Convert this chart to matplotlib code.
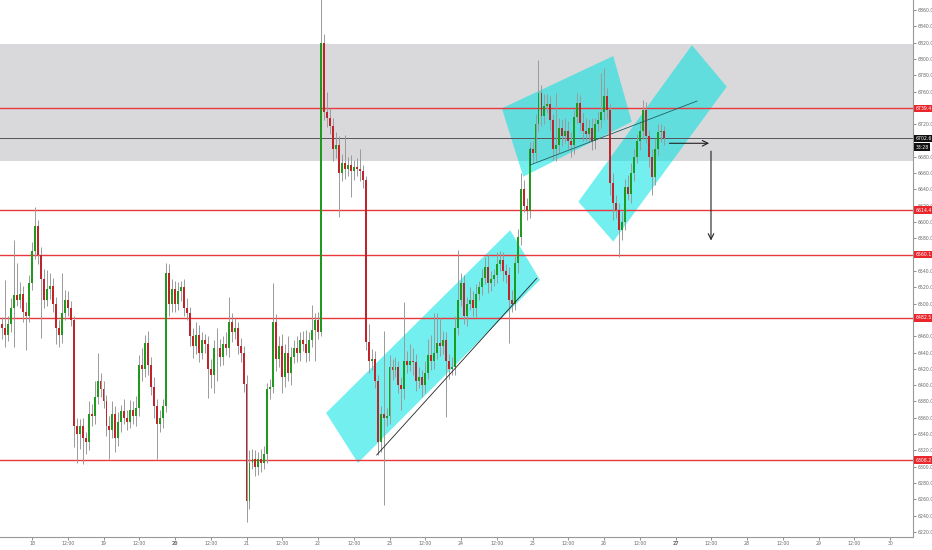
import numpy as np
import matplotlib
matplotlib.use("Agg")
import matplotlib.pyplot as plt
from matplotlib.patches import Polygon
from matplotlib.transforms import blended_transform_factory

# hourly candles, x = hours since the 18th 00:00
hours = np.arange(-10, 213)
first_open = 6475

closes = [
    6470, 6462, 6475, 6495, 6510, 6505, 6512, 6490, 6485, 6525,
    # 18
    6565, 6595, 6560, 6530, 6505, 6518, 6522, 6500, 6470, 6462, 6488, 6505,
    6495, 6480, 6350, 6340, 6350, 6335, 6330, 6365, 6362, 6385, 6405, 6395,
    # 19
    6380, 6350, 6345, 6365, 6335, 6355, 6368, 6360, 6355, 6370, 6362, 6372,
    6425, 6420, 6452, 6425, 6398, 6375, 6352, 6360, 6375, 6538, 6500, 6518,
    # 20
    6500, 6515, 6520, 6495, 6488, 6460, 6448, 6462, 6440, 6455, 6450, 6420,
    6412, 6445, 6445, 6435, 6450, 6445, 6478, 6465, 6470, 6448, 6440, 6402,
    # 21
    6258, 6305, 6310, 6300, 6310, 6305, 6315, 6395, 6398, 6477, 6432, 6448,
    6410, 6440, 6415, 6435, 6445, 6440, 6455, 6450, 6440, 6455, 6468, 6480,
    # 22
    6465, 6820, 6735, 6728, 6718, 6690, 6695, 6660, 6672, 6665, 6670, 6662,
    6668, 6665, 6662, 6652, 6453, 6430, 6432, 6405, 6330, 6365, 6360, 6362,
    # 23
    6422, 6418, 6422, 6400, 6395, 6430, 6425, 6430, 6428, 6405, 6410, 6400,
    6415, 6437, 6430, 6440, 6452, 6448, 6455, 6430, 6420, 6422, 6470, 6505,
    # 24
    6525, 6485, 6500, 6505, 6495, 6512, 6520, 6532, 6545, 6525, 6530, 6535,
    6548, 6553, 6540, 6535, 6505, 6500, 6550, 6582, 6640, 6620, 6613, 6690,
    # 25
    6685, 6720, 6758, 6730, 6742, 6745, 6725, 6690, 6695, 6715, 6705, 6712,
    6700, 6695, 6729, 6746, 6722, 6712, 6708, 6715, 6700, 6720, 6725, 6735,
    # 26
    6755, 6738, 6648, 6623, 6615, 6590, 6600, 6643, 6635, 6660, 6680, 6700,
    6712, 6737, 6705, 6680, 6655, 6690, 6710, 6712, 6702.6,
]

up_wick = [
    8, 59, 10, 12, 68, 40, 15, 10, 12, 10,
    10, 23, 8, 10, 12, 23, 15, 10, 8, 10, 50, 12, 10, 8, 5, 10, 8, 10, 8, 15, 12, 20, 35, 10,
    10, 8, 12, 15, 10, 12, 8, 15, 10, 12, 10, 15, 12, 20, 10, 15, 10, 12, 8, 10, 8, 12, 10, 12,
    10, 12, 8, 10, 12, 8, 10, 15, 12, 10, 8, 10, 12, 10, 25, 12, 10, 15, 30, 10, 12, 8, 10, 8,
    10, 15, 12, 10, 8, 12, 10, 8, 10, 48, 10, 12, 15, 10, 20, 12, 10, 15, 10, 12, 18, 10, 30, 8,
    10, 60, 10, 25, 12, 10, 15, 10, 12, 35, 10, 12, 8, 10, 25, 8, 5, 22, 12, 10, 8, 10, 102, 10,
    15, 10, 12, 8, 10, 72, 12, 20, 15, 10, 12, 8, 15, 20, 25, 48, 36, 30, 12, 10, 8, 12, 15, 61,
    12, 10, 8, 15, 10, 12, 8, 10, 12, 15, 10, 8, 15, 12, 10, 8, 10, 12, 8, 10, 20, 12, 10, 8,
    10, 12, 41, 10, 15, 12, 10, 8, 63, 12, 10, 15, 12, 10, 8, 12, 10, 12, 15, 10, 12, 8, 10, 48,
    34, 10, 8, 12, 10, 8, 12, 10, 15, 12, 10, 8, 12, 13, 10, 8, 10, 12, 10, 8, 6,
]

dn_wick = [
    14, 15, 8, 10, 48, 8, 10, 12, 42, 8,
    8, 10, 12, 72, 10, 8, 12, 10, 20, 15, 10, 8, 10, 8, 26, 35, 18, 32, 15, 10, 12, 10, 8, 10,
    8, 12, 35, 10, 17, 10, 12, 8, 10, 8, 10, 12, 10, 15, 10, 12, 10, 15, 42, 10, 12, 8, 15, 10,
    10, 8, 12, 10, 8, 12, 15, 10, 12, 8, 10, 36, 15, 22, 40, 12, 10, 8, 10, 12, 8, 10, 12, 10,
    26, 10, 8, 12, 10, 12, 8, 10, 12, 8, 15, 10, 20, 12, 10, 15, 8, 12, 10, 8, 12, 10, 8, 38,
    8, 5, 10, 12, 10, 15, 12, 54, 10, 12, 8, 31, 10, 8, 12, 10, 10, 15, 12, 8, 16, 12, 107, 10,
    10, 12, 8, 10, 25, 12, 10, 8, 15, 12, 8, 15, 10, 8, 12, 10, 8, 12, 10, 69, 12, 8, 10, 8,
    8, 10, 12, 8, 10, 12, 8, 10, 8, 12, 10, 8, 10, 8, 12, 10, 53, 10, 8, 12, 10, 8, 10, 8,
    12, 10, 8, 12, 10, 8, 12, 14, 15, 10, 12, 8, 10, 15, 12, 8, 10, 12, 8, 10, 12, 10, 8, 10,
    10, 12, 15, 20, 10, 33, 12, 10, 8, 12, 10, 8, 12, 10, 8, 12, 22, 10, 8, 12, 8,
]

red_levels = [6739.4, 6614.4, 6560.1, 6482.5, 6308.2]
last_price = 6702.6
countdown = "33:28"
zone = (6675, 6818)
price_ticks = np.arange(6220, 6861, 20)

day_labels = ["18", "12:00", "19", "12:00", "20", "12:00", "21", "12:00", "22",
              "12:00", "23", "12:00", "24", "12:00", "25", "12:00", "26", "12:00",
              "27", "12:00", "28", "12:00", "29", "12:00", "30"]
bold_days = ["20", "27"]

opens = np.array([first_open] + closes[:-1], dtype=float)
closes = np.array(closes, dtype=float)
highs = np.maximum(opens, closes) + np.array(up_wick)
lows = np.minimum(opens, closes) - np.array(dn_wick)

fig = plt.figure(figsize=(9.32, 5.5), dpi=100)
ax = fig.add_axes([0, 1 - 537 / 550, 913 / 932, 537 / 550])

ax.axhspan(zone[0], zone[1], color="#d9d9db", zorder=0, lw=0)

# channels drawn on the chart
cyan = dict(facecolor="#00e2e2", alpha=0.55, edgecolor="none", zorder=1)
ax.add_patch(Polygon([(98.7, 6366), (109.4, 6304.6), (170.5, 6529), (160.5, 6590)], **cyan))
ax.add_patch(Polygon([(157.7, 6739.5), (164.9, 6655.6), (201.3, 6723), (195.1, 6803.6)], **cyan))
ax.add_patch(Polygon([(183.4, 6625), (195.1, 6576), (233.2, 6766), (221.5, 6817)], **cyan))

for lv in red_levels:
    ax.axhline(lv, color="#e8383d", lw=1.0, zorder=2)
ax.axhline(last_price, color="#555555", lw=0.7, zorder=2)

# candles
up = closes >= opens
ax.vlines(hours, lows, highs, color="#9a9a9a", lw=0.7, zorder=3)
body = np.maximum(np.abs(closes - opens), 1.0)
bottom = np.minimum(opens, closes)
ax.bar(hours[up], body[up], bottom=bottom[up], width=0.65, color="#1f9a1f", lw=0, zorder=4)
ax.bar(hours[~up], body[~up], bottom=bottom[~up], width=0.65, color="#c0242b", lw=0, zorder=4)

# trend lines and arrows
ax.plot([115.7, 169.4], [6314.4, 6531], color="#222222", lw=0.6, zorder=5)
ax.plot([167.2, 223.2], [6670, 6748.4], color="#1f5f5f", lw=0.6, zorder=5)
ax.plot([167.2, 167.2], [6670, 6691], color="#1f5f5f", lw=0.6, zorder=5)
ax.annotate("", xy=(228.2, 6696.6), xytext=(213, 6696.6),
            arrowprops=dict(arrowstyle="->", color="#222222", lw=0.8), zorder=5)
ax.annotate("", xy=(227.9, 6574), xytext=(227.9, 6690.4),
            arrowprops=dict(arrowstyle="->", color="#222222", lw=0.8), zorder=5)

ax.set_xlim(-10.74, 295.7)
ax.set_ylim(6213.8, 6872.3)

ax.set_xticks(np.arange(0, 12 * len(day_labels), 12))
ax.set_xticklabels(day_labels)
for lab in ax.get_xticklabels():
    if lab.get_text() in bold_days:
        lab.set_fontweight("bold")
        lab.set_color("#333333")

# tick labels sitting under a price box are hidden by the box anyway
boxed = red_levels + [last_price]
ax.yaxis.tick_right()
ax.set_yticks(price_ticks)
ax.set_yticklabels(["" if min(abs(v - b) for b in boxed) < 5 else f"{v:.1f}"
                    for v in price_ticks])
ax.tick_params(axis="both", labelsize=3.3, colors="#666666", length=2, width=0.5, pad=1)
for s in ["top", "left"]:
    ax.spines[s].set_visible(False)
for s in ["right", "bottom"]:
    ax.spines[s].set_color("#999999")
    ax.spines[s].set_linewidth(0.8)

tr = blended_transform_factory(ax.transAxes, ax.transData)
for lv in red_levels:
    ax.text(1.003, lv, f"{lv:.1f}", transform=tr, fontsize=3.3, color="white",
            va="center", ha="left", zorder=10, clip_on=False,
            bbox=dict(boxstyle="square,pad=0.3", fc="#e8262b", ec="none"))
ax.text(1.003, last_price, f"{last_price:.1f}", transform=tr, fontsize=3.3, color="white",
        va="center", ha="left", zorder=10, clip_on=False,
        bbox=dict(boxstyle="square,pad=0.3", fc="#111111", ec="none"))
ax.text(1.003, last_price - 11, countdown, transform=tr, fontsize=3.3, color="white",
        va="center", ha="left", zorder=10, clip_on=False,
        bbox=dict(boxstyle="square,pad=0.3", fc="#111111", ec="none"))

fig.savefig("out.png", dpi=100)
